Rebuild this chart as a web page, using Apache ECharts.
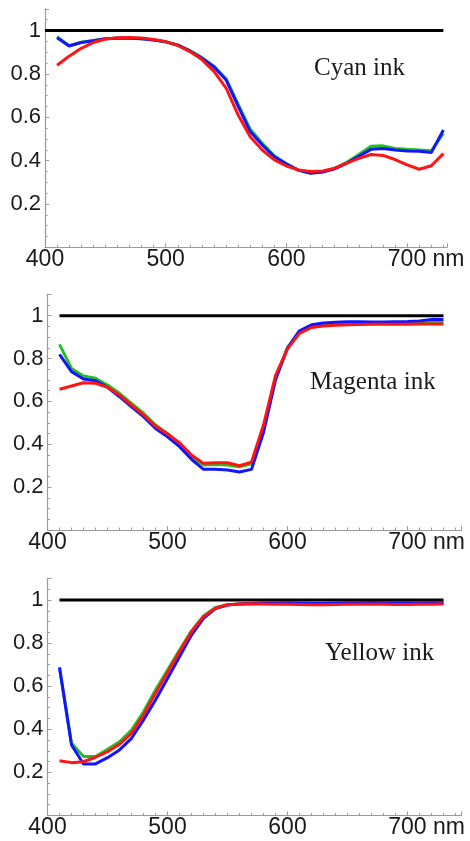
<!DOCTYPE html>
<html>
<head>
<meta charset="utf-8">
<script src="https://cdn.jsdelivr.net/npm/echarts@6/dist/echarts.min.js"></script>
<style>
html,body{margin:0;padding:0;background:#fff;}
#c{width:470px;height:841px;}
</style>
</head>
<body>
<div id="c"></div>
<script>
// Wavelengths (nm)
const wavelengths = [410,420,430,440,450,460,470,480,490,500,510,520,530,540,550,560,570,580,590,600,610,620,630,640,650,660,670,680,690,700,710,720,730];

// Panel labels
const panelTitles = ['Cyan ink', 'Magenta ink', 'Yellow ink'];
const xTickLabels = ['400', '500', '600', '700 nm'];
const yTickLabels = ['0.2', '0.4', '0.6', '0.8', '1'];

// Cyan ink
const cyanGreen = [0.972,0.930,0.946,0.954,0.962,0.965,0.965,0.962,0.956,0.948,0.934,0.908,0.875,0.836,0.778,0.660,0.545,0.480,0.422,0.386,0.356,0.343,0.348,0.364,0.392,0.428,0.466,0.468,0.456,0.452,0.449,0.445,0.526];
const cyanBlue  = [0.967,0.929,0.945,0.953,0.962,0.965,0.965,0.962,0.956,0.948,0.933,0.906,0.872,0.832,0.772,0.650,0.534,0.472,0.418,0.384,0.355,0.342,0.347,0.362,0.388,0.420,0.452,0.456,0.449,0.444,0.443,0.437,0.541];
const cyanRed   = [0.840,0.882,0.918,0.945,0.961,0.967,0.968,0.966,0.959,0.949,0.931,0.903,0.866,0.812,0.735,0.610,0.510,0.449,0.403,0.375,0.357,0.350,0.352,0.365,0.388,0.410,0.428,0.424,0.405,0.380,0.360,0.376,0.432];

// Magenta ink
const magentaGreen = [0.866,0.754,0.719,0.708,0.677,0.638,0.591,0.545,0.490,0.451,0.401,0.342,0.303,0.306,0.303,0.295,0.309,0.470,0.710,0.850,0.925,0.953,0.962,0.965,0.967,0.967,0.967,0.967,0.968,0.968,0.970,0.973,0.972];
const magentaBlue  = [0.820,0.739,0.705,0.697,0.666,0.622,0.575,0.529,0.474,0.435,0.389,0.330,0.283,0.283,0.280,0.271,0.283,0.455,0.700,0.850,0.930,0.958,0.966,0.970,0.972,0.972,0.971,0.971,0.972,0.973,0.975,0.983,0.982];
const magentaRed   = [0.657,0.672,0.687,0.685,0.666,0.630,0.583,0.537,0.485,0.448,0.407,0.350,0.311,0.314,0.314,0.300,0.317,0.490,0.720,0.845,0.918,0.945,0.952,0.956,0.958,0.959,0.960,0.960,0.960,0.960,0.961,0.961,0.961];

// Yellow ink
const yellowGreen = [0.687,0.335,0.273,0.273,0.307,0.342,0.396,0.481,0.582,0.675,0.768,0.857,0.926,0.965,0.978,0.982,0.984,0.985,0.985,0.985,0.984,0.984,0.984,0.984,0.985,0.985,0.985,0.985,0.985,0.985,0.985,0.985,0.985];
const yellowBlue  = [0.687,0.327,0.239,0.239,0.268,0.304,0.358,0.443,0.536,0.636,0.737,0.837,0.915,0.960,0.977,0.982,0.984,0.986,0.986,0.987,0.986,0.985,0.985,0.986,0.987,0.987,0.988,0.987,0.987,0.987,0.987,0.987,0.987];
const yellowRed   = [0.254,0.245,0.249,0.270,0.296,0.331,0.381,0.466,0.567,0.663,0.760,0.853,0.923,0.962,0.978,0.982,0.983,0.982,0.981,0.980,0.979,0.978,0.978,0.979,0.980,0.980,0.981,0.980,0.979,0.979,0.980,0.981,0.982];

// Reference (unity) line
const refX = [[400, 730], [410, 730], [410, 730]];
const refValue = 1;

const panels = [
  {g: cyanGreen, b: cyanBlue, r: cyanRed},
  {g: magentaGreen, b: magentaBlue, r: magentaRed},
  {g: yellowGreen, b: yellowBlue, r: yellowRed}
];

const grids = [
  {left: 45,   top: 8.9,   width: 402, height: 238.4},
  {left: 47.5, top: 294.3, width: 414, height: 235.7},
  {left: 47.5, top: 578.5, width: 414, height: 236.9}
];
const xMax = [733, 745, 745];
const titlePos = [[314, 68.5], [310, 382.5], [325, 653.5]];

const axisGray = '#9a9a9a';
const labelColor = '#1a1a1a';
const COL_G = '#22c022', COL_B = '#1414ff', COL_R = '#ff1414';

const pair = (arr) => wavelengths.map((w, i) => [w, arr[i]]);

const option = {
  animation: false,
  backgroundColor: '#fff',
  grid: grids.map(g => Object.assign({containLabel: false}, g)),
  xAxis: grids.map((g, i) => ({
    type: 'value', gridIndex: i, min: 400, max: xMax[i], interval: 100,
    axisLine: {show: true, onZero: false, lineStyle: {color: axisGray, width: 1.2}},
    axisTick: {show: true, inside: true, length: 4, lineStyle: {color: axisGray}},
    minorTick: {show: true, splitNumber: 10, length: 2.5, lineStyle: {color: axisGray}},
    splitLine: {show: false},
    axisLabel: {
      margin: 1,
      color: labelColor, fontFamily: 'Liberation Sans', fontSize: 23,
      showMaxLabel: false,
      formatter: function (v) {
        const idx = [400, 500, 600, 700].indexOf(Math.round(v));
        if (idx < 0) return '';
        const t = xTickLabels[idx];
        return t.indexOf(' ') > 0 ? '{p|}' + t : t;
      },
      rich: {p: {width: 38}}
    }
  })),
  yAxis: grids.map((g, i) => ({
    type: 'value', gridIndex: i, min: 0, max: 1.1, interval: 0.2,
    axisLine: {show: true, lineStyle: {color: axisGray, width: 1.2}},
    axisTick: {show: true, inside: true, length: 4, lineStyle: {color: axisGray}},
    minorTick: {show: true, splitNumber: 4, length: 2.5, lineStyle: {color: axisGray}},
    splitLine: {show: false},
    axisLabel: {
      margin: 4,
      color: labelColor, fontFamily: 'Liberation Sans', fontSize: 22,
      showMaxLabel: false,
      formatter: function (v) {
        const k = Math.round(v * 5);
        if (k < 1 || k > 5 || Math.abs(v * 5 - k) > 1e-6) return '';
        return yTickLabels[k - 1];
      }
    }
  })),
  series: [],
  graphic: panelTitles.map((t, i) => ({
    type: 'text', x: titlePos[i][0], y: titlePos[i][1],
    style: {text: t, font: '25px "Liberation Serif"', fill: '#1a1a1a', textAlign: 'left', textVerticalAlign: 'middle', verticalAlign: 'middle'}
  }))
};

panels.forEach((p, i) => {
  option.series.push({
    type: 'line', xAxisIndex: i, yAxisIndex: i, symbol: 'none', silent: true,
    data: refX[i].map(x => [x, refValue]),
    lineStyle: {color: '#000', width: 3}, z: 2
  });
  [[p.g, COL_G, 3], [p.b, COL_B, 4], [p.r, COL_R, 5]].forEach(([arr, col, z]) => {
    option.series.push({
      type: 'line', xAxisIndex: i, yAxisIndex: i, symbol: 'none', silent: true,
      data: pair(arr), lineStyle: {color: col, width: 3}, z: z
    });
  });
});

const chart = echarts.init(document.getElementById('c'), null, {renderer: 'canvas'});
chart.setOption(option);
</script>
</body>
</html>
